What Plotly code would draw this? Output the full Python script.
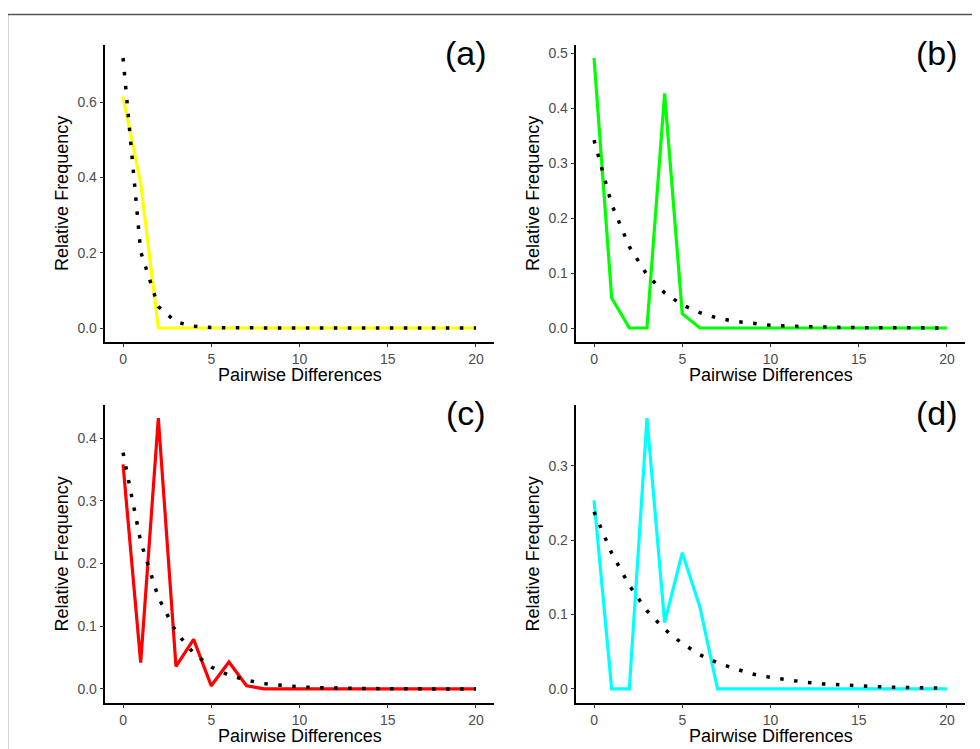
import plotly.graph_objects as go

# ---------------- data ----------------
pairwise_diff = list(range(0, 21))

obs_a = [0.615, 0.385] + [0.0] * 19
exp_a = [0.718, 0.203, 0.057, 0.016, 0.0046, 0.0013, 0.0004, 0.0001] + [0.0] * 13

obs_b = [0.4915, 0.0545, 0.0, 0.0, 0.427, 0.026] + [0.0] * 15
exp_b = [0.342, 0.225, 0.148, 0.097, 0.064, 0.042, 0.028, 0.018, 0.012, 0.008,
         0.005, 0.0034, 0.0023, 0.0015, 0.001, 0.0006, 0.0004, 0.0003, 0.0002, 0.0001, 0.0001]

obs_c = [0.358, 0.042, 0.432, 0.036, 0.079, 0.005, 0.043, 0.005] + [0.0] * 13
exp_c = [0.377, 0.235, 0.146, 0.091, 0.057, 0.035, 0.022, 0.014, 0.0085, 0.0053,
         0.0033, 0.002, 0.0013, 0.0008, 0.0005, 0.0003, 0.0002, 0.0001, 0.0001, 0.0, 0.0]

obs_d = [0.2535, 0.0, 0.0, 0.364, 0.089, 0.183, 0.110] + [0.0] * 14
exp_d = [0.238, 0.1825, 0.139, 0.105, 0.080, 0.061, 0.046, 0.035, 0.027, 0.020,
         0.0155, 0.0118, 0.009, 0.0068, 0.0052, 0.0039, 0.003, 0.0023, 0.0017, 0.0013, 0.001]

panel_labels = ["(a)", "(b)", "(c)", "(d)"]
colors = ["#FFFF00", "#00FF00", "#FF0000", "#00FFFF"]
y_ticks = [[0, 0.2, 0.4, 0.6], [0, 0.1, 0.2, 0.3, 0.4, 0.5],
           [0, 0.1, 0.2, 0.3, 0.4], [0, 0.1, 0.2, 0.3]]
x_ticks = [0, 5, 10, 15, 20]
x_title = "Pairwise Differences"
y_title = "Relative Frequency"

observed = [obs_a, obs_b, obs_c, obs_d]
expected = [exp_a, exp_b, exp_c, exp_d]

# ---------------- layout (pixels) ----------------
OFF = 8  # default page body margin
W, H = 980 - OFF, 749 - OFF
FONT = "Liberation Sans, Arial, sans-serif"
# panel boxes in page px: (x_left, x_right, y_top, y_bottom)
boxes_page = [(105.4, 493.6, 44.5, 341.5), (576.4, 964.6, 44.5, 341.5),
              (105.4, 493.6, 404.5, 702.5), (576.4, 964.6, 404.5, 702.5)]
boxes = [(a - OFF, b - OFF, c - OFF, d - OFF) for a, b, c, d in boxes_page]

fig = go.Figure()
annotations = []

for i in range(4):
    xa = "x" if i == 0 else f"x{i+1}"
    ya = "y" if i == 0 else f"y{i+1}"
    fig.add_trace(go.Scatter(x=pairwise_diff, y=observed[i], mode="lines",
                             line=dict(color=colors[i], width=3.2),
                             xaxis=xa, yaxis=ya, showlegend=False, hoverinfo="skip"))
    fig.add_trace(go.Scatter(x=pairwise_diff, y=expected[i], mode="lines",
                             line=dict(color="black", width=3.5, dash="3.5px,10.5px"),
                             xaxis=xa, yaxis=ya, showlegend=False, hoverinfo="skip"))

    xl, xr, yt, yb = boxes[i]
    ymax = max(max(observed[i]), max(expected[i]))
    yr = [-0.05 * ymax, 1.05 * ymax]
    ax_common = dict(showline=True, linecolor="black", linewidth=1.5,
                     ticks="outside", ticklen=4, tickwidth=1.3, tickcolor="#333333",
                     showgrid=False, zeroline=False,
                     tickfont=dict(family=FONT, size=14, color="#4D4D4D"))
    xkey = "xaxis" if i == 0 else f"xaxis{i+1}"
    ykey = "yaxis" if i == 0 else f"yaxis{i+1}"
    fig.update_layout({
        xkey: dict(domain=[xl / W, xr / W], range=[-1, 21], anchor=ya,
                   tickvals=x_ticks, **ax_common),
        ykey: dict(domain=[1 - yb / H, 1 - yt / H], range=yr, anchor=xa,
                   tickvals=y_ticks[i], tickformat=".1f", **ax_common),
    })

    annotations.append(dict(text=x_title, xref="paper", yref="paper",
                            x=(xl + xr) / 2 / W, y=1 - (yb + 33.5) / H,
                            xanchor="center", yanchor="middle", showarrow=False,
                            font=dict(family=FONT, size=18, color="black")))
    annotations.append(dict(text=y_title, xref="paper", yref="paper",
                            x=(xl - 43.5) / W, y=1 - (yt + yb) / 2 / H,
                            xanchor="center", yanchor="middle", showarrow=False,
                            textangle=-90,
                            font=dict(family=FONT, size=18, color="black")))
    annotations.append(dict(text=panel_labels[i], xref="paper", yref="paper",
                            x=(xr - 28) / W, y=1 - (yt + 8.5) / H,
                            xanchor="center", yanchor="middle", showarrow=False,
                            font=dict(family=FONT, size=34, color="black")))

fig.update_layout(
    width=W, height=H,
    margin=dict(l=0, r=0, t=0, b=0),
    paper_bgcolor="white", plot_bgcolor="white",
    annotations=annotations,
    shapes=[dict(type="rect", xref="paper", yref="paper",
                 x0=(7.5 - OFF) / W, x1=1.05, y0=-0.05, y1=1 - (14.5 - OFF) / H,
                 line=dict(color="#555555", width=1.5), layer="below")],
)

fig.write_html("out.html")
